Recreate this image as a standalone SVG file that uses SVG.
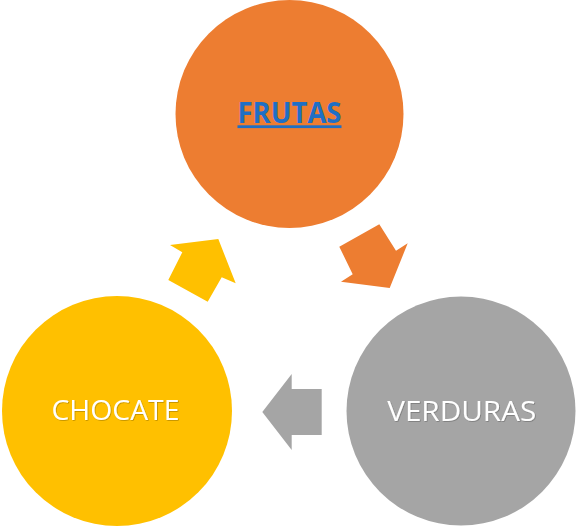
<svg xmlns="http://www.w3.org/2000/svg" width="576" height="528" viewBox="0 0 576 528">
<defs>
<style>
.lbl{font-family:"Open Sans","Liberation Sans",sans-serif;font-size:28px;text-anchor:middle;}
.white{fill:#FFFFFF;filter:url(#sh);}
.link{fill:#1F6FC5;font-weight:bold;text-decoration:underline;}
</style>
<filter id="sh" x="-10%" y="-30%" width="120%" height="160%">
<feDropShadow dx="0.7" dy="0.7" stdDeviation="0.4" flood-color="#000000" flood-opacity="0.3"/>
</filter>
</defs>
<rect width="576" height="528" fill="#FFFFFF"/>
<g id="connectors">
<polygon id="arrow-frutas-verduras" fill="#ED7D31" points="379.3,224.3 396,250.7 407.7,243.3 389.7,288 341,281.7 352.7,274.3 339.3,246.7"/>
<polygon id="arrow-verduras-chocate" fill="#A5A5A5" points="262.3,412 291.7,374 291.7,389 321.7,389 321.7,435 291.7,435 291.7,450"/>
<polygon id="arrow-chocate-frutas" fill="#FFC000" points="168.3,280 207.7,301.7 221.7,277.3 235.7,283.3 218.3,239 170,245 182.3,252.3"/>
</g>
<g id="frutas">
<circle cx="289.5" cy="114" r="114" fill="#ED7D31"/>
<text class="lbl link" x="289.5" y="123.3" textLength="104" lengthAdjust="spacingAndGlyphs">FRUTAS</text>
</g>
<g id="verduras">
<circle cx="461" cy="411" r="114.5" fill="#A5A5A5"/>
<text class="lbl white" x="461.7" y="421" textLength="149" lengthAdjust="spacingAndGlyphs">VERDURAS</text>
</g>
<g id="chocate">
<circle cx="117" cy="411" r="115" fill="#FFC000"/>
<text class="lbl white" x="115.5" y="420" textLength="128" lengthAdjust="spacingAndGlyphs">CHOCATE</text>
</g>
</svg>
